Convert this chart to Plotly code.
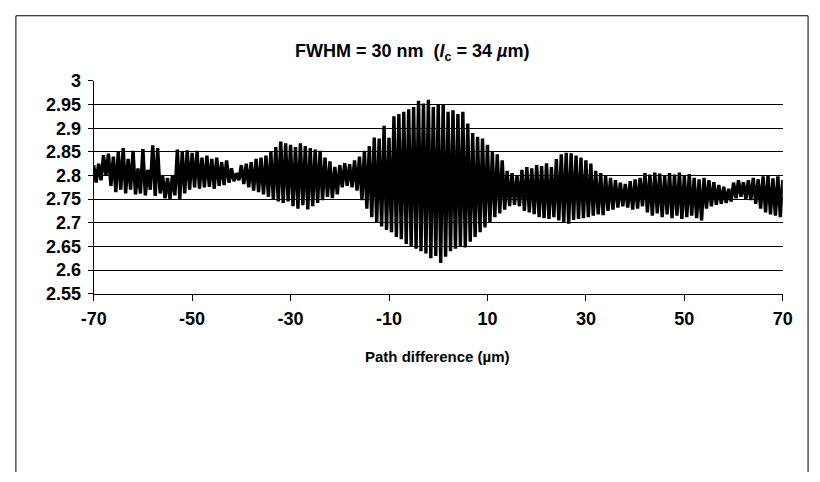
import plotly.graph_objects as go

# Interferogram: detector signal vs. path difference, peak and trough of each fringe per micron
path_um = list(range(-70, 71))

fringe_peak = [
    2.822, 2.825, 2.843, 2.846, 2.840, 2.850, 2.858, 2.835, 2.852, 2.815,
    2.856, 2.812, 2.864, 2.858, 2.800, 2.795, 2.800, 2.855, 2.850, 2.853,
    2.848, 2.852, 2.838, 2.842, 2.835, 2.838, 2.828, 2.832, 2.815, 2.805,
    2.822, 2.825, 2.828, 2.835, 2.838, 2.842, 2.850, 2.860, 2.872, 2.868,
    2.865, 2.860, 2.868, 2.862, 2.858, 2.855, 2.852, 2.838, 2.830, 2.818,
    2.822, 2.826, 2.824, 2.832, 2.840, 2.852, 2.862, 2.880, 2.878, 2.905,
    2.880, 2.925, 2.930, 2.935, 2.940, 2.945, 2.958, 2.952, 2.960, 2.945,
    2.950, 2.950, 2.935, 2.938, 2.930, 2.935, 2.910, 2.890, 2.882, 2.878,
    2.865, 2.850, 2.845, 2.832, 2.810, 2.805, 2.800, 2.812, 2.818, 2.815,
    2.822, 2.820, 2.826, 2.818, 2.835, 2.845, 2.848, 2.847, 2.842, 2.838,
    2.832, 2.825, 2.810, 2.805, 2.800, 2.795, 2.790, 2.785, 2.782, 2.788,
    2.792, 2.795, 2.805, 2.802, 2.806, 2.804, 2.800, 2.805, 2.802, 2.806,
    2.800, 2.803, 2.795, 2.792, 2.795, 2.790, 2.786, 2.780, 2.776, 2.772,
    2.785, 2.790, 2.786, 2.790, 2.795, 2.792, 2.798, 2.800, 2.794, 2.798,
    2.790,
]

fringe_trough = [
    2.785, 2.790, 2.800, 2.778, 2.765, 2.770, 2.762, 2.770, 2.760, 2.762,
    2.758, 2.770, 2.757, 2.762, 2.752, 2.750, 2.758, 2.750, 2.762, 2.770,
    2.775, 2.772, 2.775, 2.776, 2.772, 2.778, 2.780, 2.785, 2.788, 2.790,
    2.782, 2.775, 2.768, 2.765, 2.760, 2.755, 2.750, 2.745, 2.742, 2.745,
    2.735, 2.730, 2.737, 2.728, 2.735, 2.742, 2.748, 2.755, 2.752, 2.760,
    2.775, 2.778, 2.775, 2.768, 2.748, 2.730, 2.712, 2.700, 2.692, 2.685,
    2.680, 2.670, 2.665, 2.655, 2.650, 2.645, 2.640, 2.635, 2.625, 2.630,
    2.615, 2.628, 2.640, 2.645, 2.650, 2.648, 2.660, 2.670, 2.680, 2.690,
    2.700, 2.712, 2.720, 2.728, 2.735, 2.738, 2.735, 2.725, 2.722, 2.718,
    2.712, 2.710, 2.708, 2.712, 2.705, 2.700, 2.698, 2.706, 2.708, 2.710,
    2.712, 2.715, 2.718, 2.716, 2.725, 2.728, 2.732, 2.735, 2.732, 2.728,
    2.730, 2.735, 2.722, 2.715, 2.720, 2.712, 2.718, 2.710, 2.715, 2.708,
    2.712, 2.715, 2.710, 2.705, 2.730, 2.735, 2.738, 2.740, 2.742, 2.745,
    2.752, 2.755, 2.750, 2.748, 2.740, 2.730, 2.722, 2.718, 2.715, 2.712,
]

y_tick_vals = [2.55, 2.6, 2.65, 2.7, 2.75, 2.8, 2.85, 2.9, 2.95, 3.0]
y_tick_text = ["2.55", "2.6", "2.65", "2.7", "2.75", "2.8", "2.85", "2.9", "2.95", "3"]
x_tick_vals = [-70, -50, -30, -10, 10, 30, 50, 70]

# Trough of each fringe sits half a micron after its peak
trough_x = [p + 0.5 for p in path_um[:len(fringe_trough)]]

# Fringe trace: peaks and troughs interleaved
xs, ys = [], []
for i, p in enumerate(path_um):
    xs.append(p)
    ys.append(fringe_peak[i])
    if i < len(fringe_trough):
        xs.append(trough_x[i])
        ys.append(fringe_trough[i])

W, H = 820, 482
plot_left, plot_right = 83, 792
plot_top, plot_bottom = 74, 296

FONT = "Liberation Sans, Arial, sans-serif"

fig = go.Figure()
fig.add_trace(go.Scatter(
    x=xs, y=ys, mode="lines",
    line=dict(color="black", width=3.4),
    hoverinfo="skip", showlegend=False,
))

fig.update_layout(
    width=W, height=H,
    margin=dict(l=0, r=0, t=0, b=0),
    paper_bgcolor="white", plot_bgcolor="white",
    xaxis=dict(
        domain=[plot_left / W, plot_right / W],
        range=[-70, 70],
        tickvals=x_tick_vals,
        ticktext=[str(v) for v in x_tick_vals],
        ticks="outside", ticklen=6, tickcolor="black", tickwidth=1,
        showline=True, linecolor="black", linewidth=1,
        showgrid=False, zeroline=False,
        tickfont=dict(family=FONT, size=18, color="black", weight="bold"),
        ticklabelstandoff=3,
    ),
    yaxis=dict(
        domain=[1 - plot_bottom / H, 1 - plot_top / H],
        range=[2.55, 3.0],
        tickvals=y_tick_vals,
        ticktext=y_tick_text,
        ticks="outside", ticklen=5, tickcolor="black", tickwidth=1,
        showline=True, linecolor="black", linewidth=1,
        showgrid=True, gridcolor="black", gridwidth=1,
        zeroline=False,
        tickfont=dict(family=FONT, size=18, color="black", weight="bold"),
        ticklabelstandoff=3,
    ),
    annotations=[
        dict(
            text="FWHM = 30 nm  (<i>l</i><sub>c</sub> = 34 <i>µ</i>m)",
            xref="paper", yref="paper", x=410 / W, y=1 - 44 / H,
            xanchor="center", yanchor="middle", showarrow=False,
            font=dict(family=FONT, size=18, color="black", weight="bold"),
        ),
        dict(
            text="Path difference (µm)",
            xref="paper", yref="paper", x=437 / W, y=1 - 361 / H,
            xanchor="center", yanchor="middle", showarrow=False,
            font=dict(family=FONT, size=15, color="black", weight="bold"),
        ),
    ],
    shapes=[
        dict(type="line", xref="paper", yref="paper", x0=3 / W, x1=818 / W,
             y0=1 - 6 / H, y1=1 - 6 / H, line=dict(color="black", width=1)),
        dict(type="line", xref="paper", yref="paper", x0=3 / W, x1=3 / W,
             y0=0, y1=1 - 6 / H, line=dict(color="black", width=1)),
        dict(type="line", xref="paper", yref="paper", x0=818 / W, x1=818 / W,
             y0=0, y1=1 - 6 / H, line=dict(color="black", width=1)),
    ],
)

fig.write_html("out.html")
